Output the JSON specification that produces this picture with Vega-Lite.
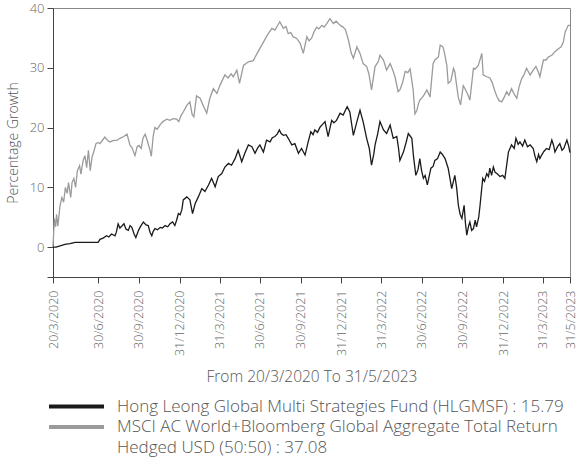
{
  "$schema": "https://vega.github.io/schema/vega-lite/v6.json",
  "width": 517,
  "height": 269,
  "autosize": {"type": "none"},
  "padding": {"left": 53, "top": 8, "right": 7, "bottom": 184},
  "background": "white",
  "config": {
    "font": "Open Sans",
    "view": {"stroke": "#888888", "strokeWidth": 1},
    "axis": {"grid": false, "domainColor": "#444444", "tickColor": "#444444", "labelColor": "#666666", "titleColor": "#555555", "titleFontWeight": 300, "labelFontWeight": 300},
    "legend": {"labelFontWeight": 300}
  },
  "datasets": {
    "index": [
      {"date": "2020-03-20", "value": 0}, {"date": "2020-03-23", "value": 4.8}, {"date": "2020-03-26", "value": 3.4}, {"date": "2020-03-28", "value": 5.5}, {"date": "2020-03-31", "value": 3.5},
      {"date": "2020-04-05", "value": 7.0}, {"date": "2020-04-09", "value": 8.3}, {"date": "2020-04-13", "value": 7.5}, {"date": "2020-04-17", "value": 10.0}, {"date": "2020-04-21", "value": 9.0},
      {"date": "2020-04-24", "value": 10.8}, {"date": "2020-04-29", "value": 8.3}, {"date": "2020-05-02", "value": 10.8}, {"date": "2020-05-06", "value": 11.5}, {"date": "2020-05-10", "value": 10.0},
      {"date": "2020-05-14", "value": 12.8}, {"date": "2020-05-19", "value": 13.6}, {"date": "2020-05-22", "value": 12.2}, {"date": "2020-05-27", "value": 14.5}, {"date": "2020-05-31", "value": 15.3},
      {"date": "2020-06-04", "value": 13.3}, {"date": "2020-06-08", "value": 16.2}, {"date": "2020-06-12", "value": 12.8}, {"date": "2020-06-16", "value": 15.0}, {"date": "2020-06-21", "value": 16.2},
      {"date": "2020-06-25", "value": 17.3}, {"date": "2020-06-30", "value": 17.5}, {"date": "2020-07-04", "value": 17.3}, {"date": "2020-07-11", "value": 18.0}, {"date": "2020-07-15", "value": 18.4},
      {"date": "2020-07-22", "value": 17.8}, {"date": "2020-07-27", "value": 17.6}, {"date": "2020-08-02", "value": 17.8}, {"date": "2020-08-12", "value": 17.9}, {"date": "2020-08-18", "value": 18.2},
      {"date": "2020-08-27", "value": 18.5}, {"date": "2020-09-03", "value": 18.9}, {"date": "2020-09-10", "value": 17.0}, {"date": "2020-09-14", "value": 16.7}, {"date": "2020-09-21", "value": 15.3},
      {"date": "2020-09-26", "value": 16.8}, {"date": "2020-09-30", "value": 17.0}, {"date": "2020-10-05", "value": 16.5}, {"date": "2020-10-09", "value": 18.2}, {"date": "2020-10-14", "value": 18.9},
      {"date": "2020-10-18", "value": 18.0}, {"date": "2020-10-24", "value": 16.5}, {"date": "2020-10-28", "value": 15.2}, {"date": "2020-11-01", "value": 18.5}, {"date": "2020-11-05", "value": 20.0},
      {"date": "2020-11-10", "value": 19.7}, {"date": "2020-11-17", "value": 20.5}, {"date": "2020-11-23", "value": 21.0}, {"date": "2020-12-02", "value": 21.4}, {"date": "2020-12-09", "value": 21.2},
      {"date": "2020-12-16", "value": 21.5}, {"date": "2020-12-24", "value": 21.4}, {"date": "2020-12-29", "value": 21.0}, {"date": "2021-01-03", "value": 22.0}, {"date": "2021-01-08", "value": 22.6},
      {"date": "2021-01-16", "value": 23.7}, {"date": "2021-01-23", "value": 24.3}, {"date": "2021-01-28", "value": 22.2}, {"date": "2021-02-01", "value": 21.8}, {"date": "2021-02-07", "value": 25.3},
      {"date": "2021-02-15", "value": 24.9}, {"date": "2021-02-22", "value": 23.7}, {"date": "2021-03-02", "value": 22.4}, {"date": "2021-03-09", "value": 24.9}, {"date": "2021-03-17", "value": 26.5},
      {"date": "2021-03-25", "value": 25.7}, {"date": "2021-04-01", "value": 27.1}, {"date": "2021-04-12", "value": 28.8}, {"date": "2021-04-19", "value": 28.3}, {"date": "2021-04-26", "value": 29.0},
      {"date": "2021-05-01", "value": 28.5}, {"date": "2021-05-09", "value": 29.6}, {"date": "2021-05-15", "value": 27.4}, {"date": "2021-05-24", "value": 30.4}, {"date": "2021-06-04", "value": 31.0},
      {"date": "2021-06-15", "value": 31.2}, {"date": "2021-06-26", "value": 32.7}, {"date": "2021-07-08", "value": 34.3}, {"date": "2021-07-17", "value": 35.5}, {"date": "2021-07-27", "value": 36.6},
      {"date": "2021-08-03", "value": 36.3}, {"date": "2021-08-10", "value": 37.2}, {"date": "2021-08-14", "value": 37.7}, {"date": "2021-08-22", "value": 36.6}, {"date": "2021-08-28", "value": 36.9},
      {"date": "2021-09-02", "value": 35.7}, {"date": "2021-09-08", "value": 35.9}, {"date": "2021-09-13", "value": 35.2}, {"date": "2021-09-21", "value": 34.9}, {"date": "2021-09-29", "value": 34.1},
      {"date": "2021-10-06", "value": 32.4}, {"date": "2021-10-14", "value": 35.2}, {"date": "2021-10-19", "value": 34.5}, {"date": "2021-10-25", "value": 35.0}, {"date": "2021-10-30", "value": 36.0},
      {"date": "2021-11-05", "value": 36.8}, {"date": "2021-11-10", "value": 36.5}, {"date": "2021-11-17", "value": 37.1}, {"date": "2021-11-22", "value": 36.8}, {"date": "2021-11-28", "value": 37.4},
      {"date": "2021-12-05", "value": 38.2}, {"date": "2021-12-13", "value": 37.4}, {"date": "2021-12-19", "value": 37.8}, {"date": "2021-12-24", "value": 37.4}, {"date": "2021-12-30", "value": 37.0},
      {"date": "2022-01-04", "value": 36.8}, {"date": "2022-01-09", "value": 36.4}, {"date": "2022-01-16", "value": 34.6}, {"date": "2022-01-22", "value": 32.5}, {"date": "2022-01-27", "value": 31.6},
      {"date": "2022-02-04", "value": 33.5}, {"date": "2022-02-11", "value": 32.4}, {"date": "2022-02-18", "value": 30.7}, {"date": "2022-02-26", "value": 30.2}, {"date": "2022-03-03", "value": 29.0},
      {"date": "2022-03-09", "value": 26.3}, {"date": "2022-03-17", "value": 30.2}, {"date": "2022-03-24", "value": 31.0}, {"date": "2022-03-28", "value": 32.1}, {"date": "2022-04-05", "value": 31.3},
      {"date": "2022-04-12", "value": 29.6}, {"date": "2022-04-20", "value": 30.7}, {"date": "2022-04-25", "value": 29.8}, {"date": "2022-05-01", "value": 28.5}, {"date": "2022-05-08", "value": 26.0},
      {"date": "2022-05-12", "value": 26.3}, {"date": "2022-05-18", "value": 27.5}, {"date": "2022-05-24", "value": 29.4}, {"date": "2022-05-30", "value": 29.2}, {"date": "2022-06-04", "value": 29.8},
      {"date": "2022-06-08", "value": 27.8}, {"date": "2022-06-11", "value": 26.3}, {"date": "2022-06-15", "value": 22.3}, {"date": "2022-06-19", "value": 22.8}, {"date": "2022-06-23", "value": 24.0},
      {"date": "2022-06-26", "value": 24.6}, {"date": "2022-06-30", "value": 24.9}, {"date": "2022-07-06", "value": 25.5}, {"date": "2022-07-12", "value": 26.3}, {"date": "2022-07-19", "value": 25.1},
      {"date": "2022-07-26", "value": 30.7}, {"date": "2022-07-30", "value": 31.3}, {"date": "2022-08-07", "value": 31.8}, {"date": "2022-08-11", "value": 33.8}, {"date": "2022-08-17", "value": 33.5},
      {"date": "2022-08-20", "value": 32.7}, {"date": "2022-08-26", "value": 30.4}, {"date": "2022-08-29", "value": 27.4}, {"date": "2022-09-04", "value": 27.8}, {"date": "2022-09-10", "value": 29.9},
      {"date": "2022-09-13", "value": 29.3}, {"date": "2022-09-17", "value": 27.1}, {"date": "2022-09-21", "value": 25.0}, {"date": "2022-09-26", "value": 23.8}, {"date": "2022-10-02", "value": 27.0},
      {"date": "2022-10-06", "value": 26.5}, {"date": "2022-10-13", "value": 25.4}, {"date": "2022-10-17", "value": 24.6}, {"date": "2022-10-25", "value": 29.9}, {"date": "2022-10-29", "value": 29.8},
      {"date": "2022-11-05", "value": 30.4}, {"date": "2022-11-13", "value": 32.4}, {"date": "2022-11-16", "value": 28.8}, {"date": "2022-11-24", "value": 28.5}, {"date": "2022-12-01", "value": 28.3},
      {"date": "2022-12-06", "value": 27.6}, {"date": "2022-12-13", "value": 26.0}, {"date": "2022-12-17", "value": 25.2}, {"date": "2022-12-22", "value": 24.5}, {"date": "2022-12-28", "value": 24.3},
      {"date": "2023-01-02", "value": 25.0}, {"date": "2023-01-08", "value": 26.0}, {"date": "2023-01-13", "value": 25.4}, {"date": "2023-01-19", "value": 26.5}, {"date": "2023-01-25", "value": 25.6},
      {"date": "2023-01-31", "value": 24.9}, {"date": "2023-02-05", "value": 26.8}, {"date": "2023-02-11", "value": 28.2}, {"date": "2023-02-16", "value": 28.8}, {"date": "2023-02-22", "value": 29.9},
      {"date": "2023-03-02", "value": 28.8}, {"date": "2023-03-09", "value": 29.6}, {"date": "2023-03-15", "value": 30.2}, {"date": "2023-03-21", "value": 29.2}, {"date": "2023-03-24", "value": 28.5},
      {"date": "2023-04-01", "value": 31.3}, {"date": "2023-04-07", "value": 31.3}, {"date": "2023-04-12", "value": 31.8}, {"date": "2023-04-20", "value": 32.1}, {"date": "2023-04-27", "value": 32.7},
      {"date": "2023-05-05", "value": 33.2}, {"date": "2023-05-11", "value": 33.5}, {"date": "2023-05-16", "value": 34.3}, {"date": "2023-05-20", "value": 36.0}, {"date": "2023-05-24", "value": 36.6},
      {"date": "2023-05-27", "value": 37.1}, {"date": "2023-05-31", "value": 37.08}
    ],
    "fund": [
      {"date": "2020-03-20", "value": 0}, {"date": "2020-03-27", "value": 0.0}, {"date": "2020-04-05", "value": 0.2}, {"date": "2020-04-16", "value": 0.45}, {"date": "2020-04-27", "value": 0.6},
      {"date": "2020-05-09", "value": 0.8}, {"date": "2020-05-20", "value": 0.8}, {"date": "2020-06-12", "value": 0.8}, {"date": "2020-06-30", "value": 0.8}, {"date": "2020-07-04", "value": 1.3},
      {"date": "2020-07-11", "value": 1.5}, {"date": "2020-07-19", "value": 1.9}, {"date": "2020-07-24", "value": 1.7}, {"date": "2020-07-30", "value": 2.2}, {"date": "2020-08-07", "value": 1.9},
      {"date": "2020-08-10", "value": 2.5}, {"date": "2020-08-14", "value": 3.9}, {"date": "2020-08-18", "value": 3.2}, {"date": "2020-08-22", "value": 3.5}, {"date": "2020-08-27", "value": 3.9},
      {"date": "2020-09-01", "value": 3.0}, {"date": "2020-09-06", "value": 2.8}, {"date": "2020-09-10", "value": 3.6}, {"date": "2020-09-14", "value": 3.3}, {"date": "2020-09-19", "value": 2.2},
      {"date": "2020-09-23", "value": 1.6}, {"date": "2020-09-29", "value": 2.8}, {"date": "2020-10-04", "value": 3.5}, {"date": "2020-10-10", "value": 4.2}, {"date": "2020-10-16", "value": 3.7},
      {"date": "2020-10-21", "value": 3.6}, {"date": "2020-10-25", "value": 2.5}, {"date": "2020-10-29", "value": 1.9}, {"date": "2020-11-01", "value": 2.6}, {"date": "2020-11-05", "value": 3.1},
      {"date": "2020-11-11", "value": 2.9}, {"date": "2020-11-17", "value": 3.3}, {"date": "2020-11-22", "value": 3.2}, {"date": "2020-11-28", "value": 3.6}, {"date": "2020-12-04", "value": 3.4},
      {"date": "2020-12-09", "value": 3.9}, {"date": "2020-12-15", "value": 4.2}, {"date": "2020-12-20", "value": 3.6}, {"date": "2020-12-24", "value": 4.5}, {"date": "2020-12-28", "value": 5.6},
      {"date": "2021-01-01", "value": 5.4}, {"date": "2021-01-05", "value": 6.3}, {"date": "2021-01-08", "value": 7.9}, {"date": "2021-01-16", "value": 8.4}, {"date": "2021-01-23", "value": 7.9},
      {"date": "2021-01-29", "value": 5.6}, {"date": "2021-02-04", "value": 7.3}, {"date": "2021-02-11", "value": 8.4}, {"date": "2021-02-19", "value": 9.8}, {"date": "2021-02-26", "value": 9.3},
      {"date": "2021-03-06", "value": 10.4}, {"date": "2021-03-13", "value": 11.5}, {"date": "2021-03-21", "value": 10.1}, {"date": "2021-03-28", "value": 11.8}, {"date": "2021-04-05", "value": 12.3},
      {"date": "2021-04-12", "value": 13.4}, {"date": "2021-04-20", "value": 14.0}, {"date": "2021-04-27", "value": 13.7}, {"date": "2021-05-05", "value": 14.8}, {"date": "2021-05-12", "value": 16.2},
      {"date": "2021-05-20", "value": 14.3}, {"date": "2021-05-27", "value": 15.7}, {"date": "2021-06-04", "value": 17.1}, {"date": "2021-06-12", "value": 16.8}, {"date": "2021-06-19", "value": 15.7},
      {"date": "2021-06-25", "value": 16.6}, {"date": "2021-06-30", "value": 17.1}, {"date": "2021-07-08", "value": 15.9}, {"date": "2021-07-15", "value": 17.9}, {"date": "2021-07-23", "value": 17.6},
      {"date": "2021-07-28", "value": 18.3}, {"date": "2021-08-03", "value": 18.5}, {"date": "2021-08-08", "value": 18.9}, {"date": "2021-08-13", "value": 19.6}, {"date": "2021-08-17", "value": 19.0},
      {"date": "2021-08-22", "value": 18.7}, {"date": "2021-08-28", "value": 18.8}, {"date": "2021-09-02", "value": 18.2}, {"date": "2021-09-10", "value": 17.1}, {"date": "2021-09-17", "value": 17.3},
      {"date": "2021-09-25", "value": 15.7}, {"date": "2021-10-02", "value": 16.5}, {"date": "2021-10-10", "value": 15.4}, {"date": "2021-10-17", "value": 17.6}, {"date": "2021-10-23", "value": 19.3},
      {"date": "2021-10-28", "value": 18.8}, {"date": "2021-11-01", "value": 19.6}, {"date": "2021-11-07", "value": 19.2}, {"date": "2021-11-13", "value": 20.1}, {"date": "2021-11-18", "value": 20.5},
      {"date": "2021-11-24", "value": 21.0}, {"date": "2021-12-01", "value": 18.5}, {"date": "2021-12-09", "value": 21.2}, {"date": "2021-12-14", "value": 20.8}, {"date": "2021-12-20", "value": 21.2},
      {"date": "2021-12-28", "value": 22.4}, {"date": "2022-01-04", "value": 22.1}, {"date": "2022-01-09", "value": 22.9}, {"date": "2022-01-13", "value": 23.5}, {"date": "2022-01-19", "value": 22.6},
      {"date": "2022-01-27", "value": 18.7}, {"date": "2022-02-04", "value": 21.0}, {"date": "2022-02-11", "value": 22.9}, {"date": "2022-02-18", "value": 21.0}, {"date": "2022-02-26", "value": 18.2},
      {"date": "2022-03-04", "value": 16.5}, {"date": "2022-03-09", "value": 13.7}, {"date": "2022-03-14", "value": 15.5}, {"date": "2022-03-17", "value": 17.1}, {"date": "2022-03-23", "value": 19.0},
      {"date": "2022-03-28", "value": 21.0}, {"date": "2022-04-05", "value": 19.6}, {"date": "2022-04-12", "value": 19.0}, {"date": "2022-04-20", "value": 20.4}, {"date": "2022-04-27", "value": 18.2},
      {"date": "2022-05-05", "value": 18.5}, {"date": "2022-05-09", "value": 16.5}, {"date": "2022-05-12", "value": 14.5}, {"date": "2022-05-20", "value": 15.9}, {"date": "2022-05-26", "value": 17.5},
      {"date": "2022-05-31", "value": 19.0}, {"date": "2022-06-08", "value": 18.2}, {"date": "2022-06-12", "value": 15.0}, {"date": "2022-06-17", "value": 12.0}, {"date": "2022-06-22", "value": 13.0},
      {"date": "2022-06-26", "value": 14.8}, {"date": "2022-06-30", "value": 12.8}, {"date": "2022-07-04", "value": 11.5}, {"date": "2022-07-08", "value": 12.0}, {"date": "2022-07-13", "value": 10.4},
      {"date": "2022-07-21", "value": 13.2}, {"date": "2022-07-26", "value": 13.5}, {"date": "2022-07-30", "value": 14.5}, {"date": "2022-08-05", "value": 14.8}, {"date": "2022-08-11", "value": 15.9},
      {"date": "2022-08-16", "value": 15.5}, {"date": "2022-08-22", "value": 14.8}, {"date": "2022-08-29", "value": 13.2}, {"date": "2022-09-02", "value": 11.5}, {"date": "2022-09-06", "value": 9.8},
      {"date": "2022-09-13", "value": 12.0}, {"date": "2022-09-17", "value": 10.0}, {"date": "2022-09-21", "value": 7.0}, {"date": "2022-09-25", "value": 5.5}, {"date": "2022-09-29", "value": 4.8},
      {"date": "2022-10-04", "value": 7.0}, {"date": "2022-10-07", "value": 4.0}, {"date": "2022-10-10", "value": 2.0}, {"date": "2022-10-14", "value": 3.5}, {"date": "2022-10-17", "value": 4.2},
      {"date": "2022-10-21", "value": 2.8}, {"date": "2022-10-25", "value": 3.1}, {"date": "2022-10-29", "value": 4.5}, {"date": "2022-11-01", "value": 3.4}, {"date": "2022-11-06", "value": 5.0},
      {"date": "2022-11-09", "value": 7.0}, {"date": "2022-11-15", "value": 11.5}, {"date": "2022-11-19", "value": 11.0}, {"date": "2022-11-24", "value": 12.3}, {"date": "2022-11-28", "value": 11.8},
      {"date": "2022-12-01", "value": 13.2}, {"date": "2022-12-05", "value": 12.0}, {"date": "2022-12-09", "value": 13.4}, {"date": "2022-12-13", "value": 12.5}, {"date": "2022-12-17", "value": 12.3},
      {"date": "2022-12-24", "value": 11.8}, {"date": "2022-12-30", "value": 12.0}, {"date": "2023-01-04", "value": 11.5}, {"date": "2023-01-12", "value": 15.9}, {"date": "2023-01-19", "value": 17.1},
      {"date": "2023-01-25", "value": 16.5}, {"date": "2023-01-29", "value": 18.2}, {"date": "2023-02-03", "value": 17.2}, {"date": "2023-02-07", "value": 17.6}, {"date": "2023-02-13", "value": 16.9},
      {"date": "2023-02-18", "value": 17.9}, {"date": "2023-02-24", "value": 16.8}, {"date": "2023-03-02", "value": 17.1}, {"date": "2023-03-09", "value": 16.5}, {"date": "2023-03-13", "value": 15.2},
      {"date": "2023-03-17", "value": 14.3}, {"date": "2023-03-21", "value": 15.5}, {"date": "2023-03-24", "value": 14.8}, {"date": "2023-03-28", "value": 15.4}, {"date": "2023-04-02", "value": 16.0},
      {"date": "2023-04-08", "value": 16.5}, {"date": "2023-04-14", "value": 16.3}, {"date": "2023-04-20", "value": 17.9}, {"date": "2023-04-24", "value": 17.0}, {"date": "2023-04-27", "value": 15.9},
      {"date": "2023-05-03", "value": 16.8}, {"date": "2023-05-08", "value": 17.3}, {"date": "2023-05-13", "value": 16.2}, {"date": "2023-05-17", "value": 16.5}, {"date": "2023-05-24", "value": 17.9},
      {"date": "2023-05-28", "value": 16.9}, {"date": "2023-05-31", "value": 15.79}
    ]
  },
  "encoding": {
    "x": {
      "field": "date", "type": "temporal",
      "scale": {"type": "utc", "domain": [{"year": 2020, "month": 3, "date": 20, "utc": true}, {"year": 2023, "month": 5, "date": 31, "utc": true}]},
      "axis": {
        "title": "From 20/3/2020 To 31/5/2023",
        "titleFontSize": 15.5, "titlePadding": 14,
        "labelExpr": "utcFormat(datum.value, '%-d/%-m/%Y')",
        "values": [
          {"year": 2020, "month": 3, "date": 20, "utc": true}, {"year": 2020, "month": 6, "date": 30, "utc": true},
          {"year": 2020, "month": 9, "date": 30, "utc": true}, {"year": 2020, "month": 12, "date": 31, "utc": true},
          {"year": 2021, "month": 3, "date": 31, "utc": true}, {"year": 2021, "month": 6, "date": 30, "utc": true},
          {"year": 2021, "month": 9, "date": 30, "utc": true}, {"year": 2021, "month": 12, "date": 31, "utc": true},
          {"year": 2022, "month": 3, "date": 31, "utc": true}, {"year": 2022, "month": 6, "date": 30, "utc": true},
          {"year": 2022, "month": 9, "date": 30, "utc": true}, {"year": 2022, "month": 12, "date": 31, "utc": true},
          {"year": 2023, "month": 3, "date": 31, "utc": true}, {"year": 2023, "month": 5, "date": 31, "utc": true}
        ],
        "labelAngle": 270, "labelFontSize": 12.5, "labelPadding": 7, "tickSize": 6,
        "labelFlush": false, "labelOverlap": false, "labelBound": false
      }
    },
    "y": {
      "field": "value", "type": "quantitative",
      "scale": {"domain": [-5, 40], "nice": false, "zero": false},
      "axis": {
        "title": "Percentage Growth", "titleFontSize": 14, "titlePadding": 9,
        "values": [-5, 0, 10, 20, 30, 40],
        "labelExpr": "datum.value == -5 ? '' : datum.label",
        "labelFontSize": 13, "labelPadding": 3, "tickSize": 6
      }
    },
    "color": {
      "type": "nominal",
      "scale": {
        "domain": ["Hong Leong Global Multi Strategies Fund (HLGMSF) : 15.79", "MSCI AC World+Bloomberg Global Aggregate Total Return", "Hedged USD (50:50) : 37.08"],
        "range": ["#1a1a1a", "#9b9b9b", "rgba(255,255,255,0)"]
      },
      "legend": {
        "title": null, "orient": "none", "legendX": -6, "legendY": 388.5, "direction": "vertical",
        "symbolType": "stroke", "symbolSize": 3025, "symbolStrokeWidth": 4,
        "clipHeight": 20, "rowPadding": 0.5,
        "labelFontSize": 17, "labelColor": "#555555", "labelOffset": 11, "labelLimit": 600, "padding": 0
      }
    }
  },
  "layer": [
    {
      "data": {"name": "index"},
      "mark": {"type": "line", "strokeWidth": 1.3, "interpolate": "linear"},
      "encoding": {"color": {"datum": "MSCI AC World+Bloomberg Global Aggregate Total Return"}}
    },
    {
      "data": {"name": "fund"},
      "mark": {"type": "line", "strokeWidth": 1.3, "interpolate": "linear"},
      "encoding": {"color": {"datum": "Hong Leong Global Multi Strategies Fund (HLGMSF) : 15.79"}}
    }
  ]
}
